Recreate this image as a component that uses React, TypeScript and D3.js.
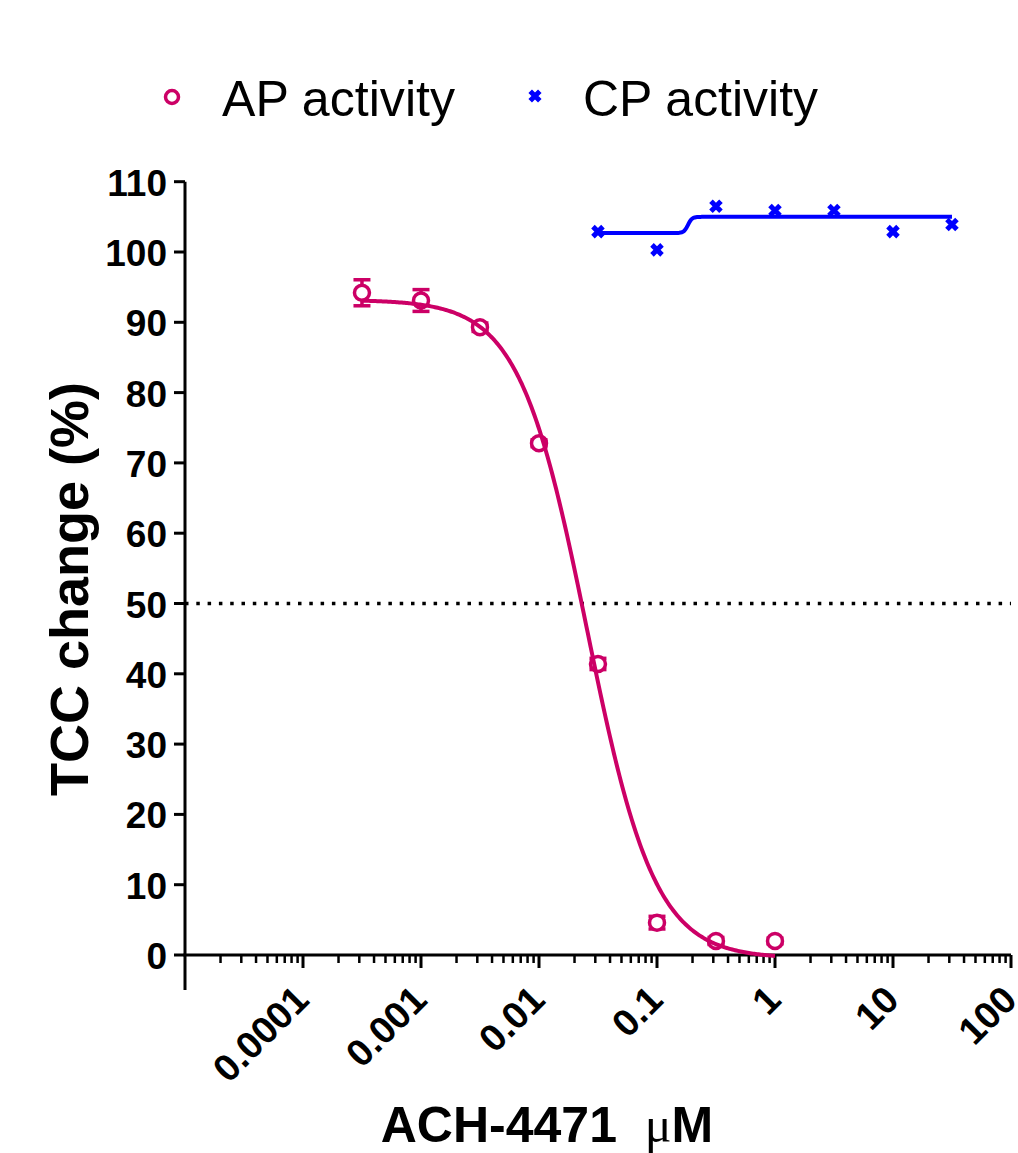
import React from "react";
import * as d3 from "d3";

// AP activity (alternative pathway), mean with SEM
const apConc = [0.000316, 0.001, 0.00316, 0.01, 0.0316, 0.1, 0.316, 1];
const apValue = [94.2, 93.1, 89.3, 72.8, 41.4, 4.6, 2.0, 2.0];
const apError = [1.85, 1.55, 0.6, 0.5, 0.8, 0.9, 0.5, 0.4];

// CP activity (classical pathway)
const cpConc = [0.0316, 0.1, 0.316, 1, 3.16, 10, 31.6];
const cpValue = [102.9, 100.3, 106.5, 105.9, 105.9, 102.9, 103.9];

// four-parameter fit: [bottom, top, logEC50, hillSlope]
const apFit = [-0.5, 93.2, Math.log10(0.0255), -1.51];
const cpFit = [102.7, 105.0, Math.log10(0.183), 25];

const yTicks = [0, 10, 20, 30, 40, 50, 60, 70, 80, 90, 100, 110];
const xTicks = [0.0001, 0.001, 0.01, 0.1, 1, 10, 100];
const xTickLabels = ["0.0001", "0.001", "0.01", "0.1", "1", "10", "100"];

const W = 1018;
const H = 1153;
const AP_COLOR = "#CC0066";
const CP_COLOR = "#0000FF";
const FONT = "'Liberation Sans', Arial, Helvetica, sans-serif";

const fourPL = (p: number[], x: number) =>
  p[0] + (p[1] - p[0]) / (1 + Math.pow(10, (p[2] - Math.log10(x)) * p[3]));

const curvePoints = (p: number[], lo: number, hi: number) => {
  const n = 300;
  const a = Math.log10(lo);
  const b = Math.log10(hi);
  return d3.range(n + 1).map((i) => {
    const xv = Math.pow(10, a + ((b - a) * i) / n);
    return [xv, fourPL(p, xv)] as [number, number];
  });
};

export default function App() {
  const x = d3.scaleLog().domain([1e-5, 100]).range([185, 1011]);
  const y = d3.scaleLinear().domain([0, 110]).range([955, 181.7]);

  const line = d3
    .line<[number, number]>()
    .x((d) => x(d[0]))
    .y((d) => y(d[1]));

  const apCurve = curvePoints(apFit, apConc[0], apConc[apConc.length - 1]);
  const cpCurve = curvePoints(cpFit, cpConc[0], cpConc[cpConc.length - 1]);

  const isPow10 = (t: number) => Math.abs(Math.log10(t) - Math.round(Math.log10(t))) < 1e-6;
  const minorTicks = x.ticks().filter((t) => !isPow10(t));

  const y0 = y(0);
  const axisX = x.range()[0];
  const cross = (s: number) => `M${-s},${-s}L${s},${s}M${-s},${s}L${s},${-s}`;

  return (
    <svg
      width={W}
      height={H}
      style={{ position: "absolute", left: 0, top: 0, background: "#fff" }}
      fontFamily={FONT}
    >
      {/* legend */}
      <circle cx={172} cy={97} r={6.5} fill="none" stroke={AP_COLOR} strokeWidth={3.5} />
      <text x={222} y={116} fontSize={50} textLength={233} lengthAdjust="spacingAndGlyphs">
        AP activity
      </text>
      <path d={cross(4.8)} transform="translate(535,96)" stroke={CP_COLOR} strokeWidth={5} />
      <text x={583} y={116} fontSize={50} textLength={235} lengthAdjust="spacingAndGlyphs">
        CP activity
      </text>

      {/* y axis */}
      <line x1={axisX} x2={axisX} y1={y(110)} y2={990} stroke="#000" strokeWidth={3} />
      {yTicks.map((t) => (
        <g key={t}>
          <line x1={axisX - 11} x2={axisX} y1={y(t)} y2={y(t)} stroke="#000" strokeWidth={3} />
          <text x={167} y={y(t) + 14} textAnchor="end" fontSize={37} fontWeight="bold">
            {t}
          </text>
        </g>
      ))}

      {/* x axis */}
      <line x1={axisX - 1.5} x2={x(100)} y1={y0} y2={y0} stroke="#000" strokeWidth={3} />
      {minorTicks.map((t, i) => (
        <line key={"m" + i} x1={x(t)} x2={x(t)} y1={y0} y2={y0 + 8} stroke="#000" strokeWidth={2.5} />
      ))}
      {xTicks.map((t, i) => (
        <g key={t}>
          <line x1={x(t)} x2={x(t)} y1={y0} y2={y0 + 13} stroke="#000" strokeWidth={3} />
          <text
            transform={`translate(${x(t) + 8},${y0 + 47}) rotate(-45)`}
            textAnchor="end"
            fontSize={38}
            fontWeight="bold"
          >
            {xTickLabels[i]}
          </text>
        </g>
      ))}

      {/* 50% reference line */}
      <line
        x1={axisX}
        x2={x(100)}
        y1={y(50)}
        y2={y(50)}
        stroke="#000"
        strokeWidth={3.5}
        strokeDasharray="3.5,7.8"
      />

      {/* AP error bars */}
      {apConc.map((c, i) => (
        <g key={"e" + i} stroke={AP_COLOR} strokeWidth={3.5}>
          <line x1={x(c)} x2={x(c)} y1={y(apValue[i] - apError[i])} y2={y(apValue[i] + apError[i])} />
          <line x1={x(c) - 8.5} x2={x(c) + 8.5} y1={y(apValue[i] + apError[i])} y2={y(apValue[i] + apError[i])} />
          <line x1={x(c) - 8.5} x2={x(c) + 8.5} y1={y(apValue[i] - apError[i])} y2={y(apValue[i] - apError[i])} />
        </g>
      ))}

      {/* AP points */}
      {apConc.map((c, i) => (
        <circle
          key={"p" + i}
          cx={x(c)}
          cy={y(apValue[i])}
          r={7.5}
          fill="#fff"
          stroke={AP_COLOR}
          strokeWidth={3.5}
        />
      ))}

      {/* fitted curves */}
      <path d={line(apCurve) || ""} fill="none" stroke={AP_COLOR} strokeWidth={4} />
      <path d={line(cpCurve) || ""} fill="none" stroke={CP_COLOR} strokeWidth={4} />

      {/* CP points */}
      {cpConc.map((c, i) => (
        <path
          key={"c" + i}
          d={cross(5)}
          transform={`translate(${x(c)},${y(cpValue[i])})`}
          stroke={CP_COLOR}
          strokeWidth={5}
        />
      ))}

      {/* axis titles */}
      <text
        transform="translate(88,589) rotate(-90)"
        textAnchor="middle"
        fontSize={54}
        fontWeight="bold"
      >
        TCC change (%)
      </text>
      <text x={547} y={1142} textAnchor="middle" fontSize={50} fontWeight="bold">
        ACH-4471{"\u00a0\u00a0"}
        <tspan fontFamily="'Liberation Serif', 'Times New Roman', serif" fontWeight="normal">
          μ
        </tspan>
        M
      </text>
    </svg>
  );
}
